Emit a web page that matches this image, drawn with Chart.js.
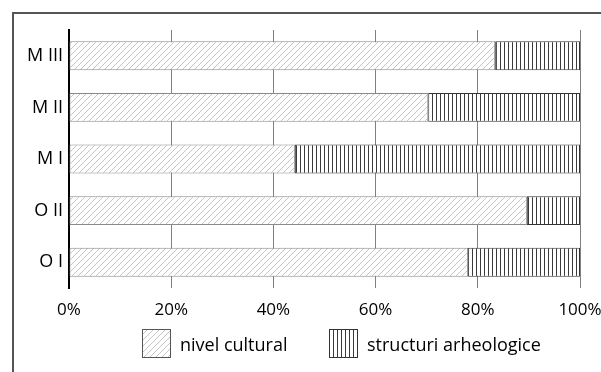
<!DOCTYPE html>
<html>
<head>
<meta charset="utf-8">
<script src="https://cdn.jsdelivr.net/npm/chart.js@4/dist/chart.umd.min.js"></script>
<style>
  body { margin: 0; overflow: hidden; background: #fff; font-family: "Open Sans", sans-serif; }
  #frame { position: absolute; left: 12px; top: 12px; width: 700px; height: 500px;
           border-left: 2px solid #555; border-top: 2px solid #555; }
  #chart { position: absolute; left: 0; top: 0; }
  .lg-item { position: absolute; top: 329px; height: 29px; display: flex; align-items: center;
             font-size: 18px; color: #000; white-space: nowrap; }
  .lg-item canvas { margin-right: 9px; }
</style>
</head>
<body>
<div id="frame"></div>
<canvas id="chart" width="601" height="372"></canvas>
<div id="legend"></div>
<script>
const categories = ['M III', 'M II', 'M I', 'O II', 'O I'];
const nivelCultural = [83.4, 70.3, 44.2, 89.6, 78.1];
const structuriArheologice = [16.6, 29.7, 55.8, 10.4, 21.9];
const tickLabels = ['0%', '20%', '40%', '60%', '80%', '100%'];
const seriesNames = ['nivel cultural', 'structuri arheologice'];

// hatch fills
function diagonalPattern() {
  const c = document.createElement('canvas');
  c.width = 6; c.height = 6;
  const g = c.getContext('2d');
  g.fillStyle = '#fff';
  g.fillRect(0, 0, 6, 6);
  g.strokeStyle = '#c4c4c4';
  g.lineWidth = 1;
  g.beginPath();
  g.moveTo(-1, 7); g.lineTo(7, -1);
  g.moveTo(-4, 4); g.lineTo(4, -4);
  g.moveTo(2, 10); g.lineTo(10, 2);
  g.stroke();
  return g.createPattern(c, 'repeat');
}

function verticalPattern() {
  const c = document.createElement('canvas');
  c.width = 4; c.height = 4;
  const g = c.getContext('2d');
  g.fillStyle = '#fff';
  g.fillRect(0, 0, 4, 4);
  g.fillStyle = '#3a3a3a';
  g.fillRect(0, 0, 1, 4);
  return g.createPattern(c, 'repeat');
}

const ctx = document.getElementById('chart').getContext('2d');
const fills = [diagonalPattern(), verticalPattern()];
const borders = ['#8a8a8a', '#333'];

const chart = new Chart(ctx, {
  type: 'bar',
  data: {
    labels: categories,
    datasets: [
      { label: seriesNames[0], data: nivelCultural, backgroundColor: fills[0], borderColor: borders[0],
        borderWidth: 1, borderSkipped: false, barPercentage: 0.56, categoryPercentage: 1 },
      { label: seriesNames[1], data: structuriArheologice, backgroundColor: fills[1], borderColor: borders[1],
        borderWidth: 1, borderSkipped: false, barPercentage: 0.56, categoryPercentage: 1 }
    ]
  },
  options: {
    indexAxis: 'y',
    responsive: false,
    animation: false,
    devicePixelRatio: 1,
    layout: { padding: { top: 30, right: 21, left: 0, bottom: 0 } },
    plugins: {
      legend: { display: false },
      tooltip: { enabled: false }
    },
    scales: {
      x: {
        stacked: true,
        min: 0,
        max: 100,
        ticks: {
          stepSize: 20,
          padding: 12,
          color: '#000',
          font: { family: 'Open Sans', size: 17 },
          callback: (v, i) => tickLabels[i]
        },
        grid: { color: '#808080', lineWidth: 1, drawTicks: false },
        border: { display: false },
        afterFit: (s) => { s.height = 84; s.paddingRight = 0; s.paddingLeft = 0; }
      },
      y: {
        stacked: true,
        ticks: { padding: 6, color: '#000', font: { family: 'Open Sans', size: 18 } },
        grid: { display: false, drawTicks: false },
        border: { color: '#000', width: 2 },
        afterFit: (s) => { s.width = 69; }
      }
    }
  }
});

// legend built from the chart's datasets
const legend = document.getElementById('legend');
const legendLeft = [142, 329];
chart.data.datasets.forEach((ds, i) => {
  const item = document.createElement('div');
  item.className = 'lg-item';
  item.style.left = legendLeft[i] + 'px';
  const sw = document.createElement('canvas');
  sw.width = 29; sw.height = 29;
  const g = sw.getContext('2d');
  g.fillStyle = i === 0 ? diagonalPattern() : verticalPattern();
  g.fillRect(0, 0, 29, 29);
  g.strokeStyle = i === 0 ? '#555' : '#333';
  g.lineWidth = 1;
  g.strokeRect(0.5, 0.5, 28, 28);
  item.appendChild(sw);
  item.appendChild(document.createTextNode(ds.label));
  legend.appendChild(item);
});
</script>
</body>
</html>
